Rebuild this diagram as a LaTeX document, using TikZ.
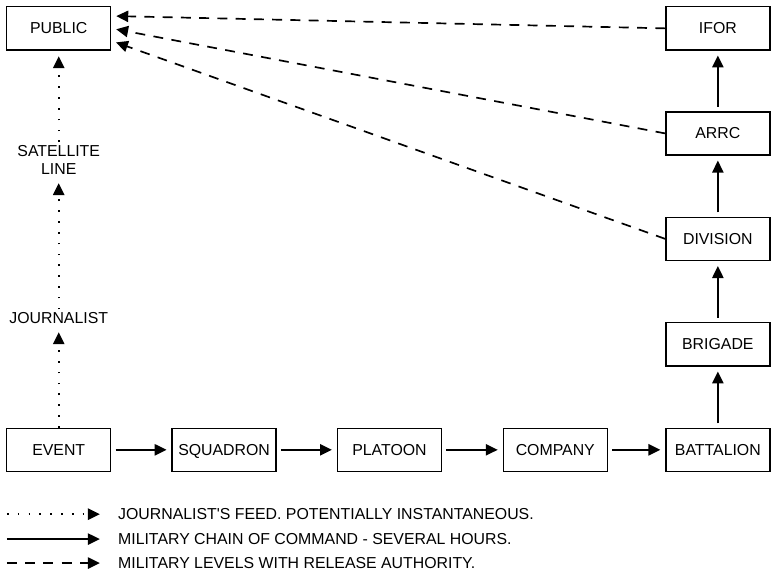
\documentclass[tikz,border=0pt]{standalone}
\usepackage{fontspec}
\setmainfont{Liberation Sans}[Ligatures=TeXOff]
\usetikzlibrary{arrows.meta,calc}
\tikzset{
    >={Triangle[length=8.5pt,width=8pt]},
    ops/.style={
        font=\fontsize{11.3}{13}\selectfont,
        unit/.append style={draw,line width=1pt,minimum width=2.6cm,minimum height=1.08cm,inner sep=0pt,text height=1.5ex,text depth=0pt},
        lbl/.append style={align=center,inner sep=2pt},
        key/.append style={anchor=west,inner sep=0pt},
        cmd/.append style={->,line width=1.3pt,shorten <=3pt,shorten >=3.5pt},
        feed/.append style={->,line width=1.4pt,dash pattern=on 1.2pt off 6.5pt,shorten >=4pt},
        release/.append style={->,line width=1.2pt,dash pattern=on 7pt off 6pt,shorten >=3.5pt}
    }
}

\begin{document}
\begin{tikzpicture}[ops]
    \useasboundingbox (0, 0) rectangle (19.3, 14.42);

    \node[unit] (event) at (1.47, 3.16) {EVENT};
    \node[unit] (squadron) at (5.61, 3.16) {SQUADRON};
    \node[unit] (platoon) at (9.75, 3.16) {PLATOON};
    \node[unit] (company) at (13.9, 3.16) {COMPANY};
    \node[unit] (battalion) at (17.97, 3.16) {BATTALION};
    \node[unit] (brigade) at (17.97, 5.8) {BRIGADE};
    \node[unit] (division) at (17.97, 8.44) {DIVISION};
    \node[unit] (arrc) at (17.97, 11.08) {ARRC};
    \node[unit] (ifor) at (17.97, 13.71) {IFOR};
    \node[unit] (public) at (1.47, 13.71) {PUBLIC};

    \node[lbl] (journalist) at (1.47, 6.46) {JOURNALIST};
    \node[lbl] (satellite) at (1.47, 10.42) {SATELLITE\\LINE};

    \draw[cmd] (event) -- (squadron);
    \draw[cmd] (squadron) -- (platoon);
    \draw[cmd] (platoon) -- (company);
    \draw[cmd] (company) -- (battalion);
    \draw[cmd] (battalion) -- (brigade);
    \draw[cmd] (brigade) -- (division);
    \draw[cmd] (division) -- (arrc);
    \draw[cmd] (arrc) -- (ifor);

    \draw[feed] (event.north) -- (journalist.south);
    \draw[feed] (journalist.north) -- (satellite.south);
    \draw[feed] (satellite.north) -- (public.south);

    \coordinate (pub1) at ($(public.east) + (0, 0.31)$);
    \coordinate (pub2) at (public.east);
    \coordinate (pub3) at ($(public.east) + (0, -0.31)$);
    \draw[release] (ifor.west) -- (pub1);
    \draw[release] (arrc.west) -- (pub2);
    \draw[release] (division.west) -- (pub3);

    % legend
    \coordinate (k1a) at (0.175, 1.55);
    \coordinate (k1b) at (2.5, 1.55);
    \coordinate (k2a) at (0.175, 0.925);
    \coordinate (k2b) at (2.5, 0.925);
    \coordinate (k3a) at (0.175, 0.325);
    \coordinate (k3b) at (2.5, 0.325);
    \draw[feed, shorten >=0pt] (k1a) -- (k1b);
    \draw[cmd, shorten <=0pt, shorten >=0pt] (k2a) -- (k2b);
    \draw[release, shorten >=0pt] (k3a) -- (k3b);
    \node[key] (k1) at (2.95, 1.55) {JOURNALIST'S FEED. POTENTIALLY INSTANTANEOUS.};
    \node[key] (k2) at (2.95, 0.925) {MILITARY CHAIN OF COMMAND - SEVERAL HOURS.};
    \node[key] (k3) at (2.95, 0.325) {MILITARY LEVELS WITH RELEASE AUTHORITY.};
\end{tikzpicture}
\end{document}
